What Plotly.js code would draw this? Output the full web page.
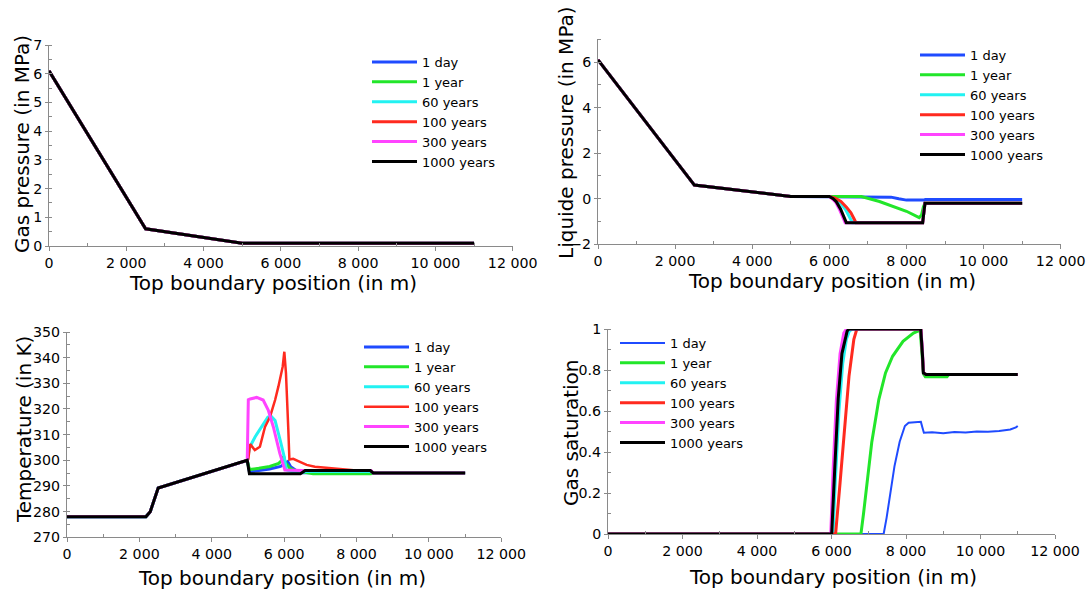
<!DOCTYPE html>
<html>
<head>
<meta charset="utf-8">
<script src="https://cdn.plot.ly/plotly-3.0.1.min.js"></script>
<style>html,body{margin:0;padding:0;background:#fff;}#chart{width:1091px;height:592px;}</style>
</head>
<body>
<div id="chart"></div>
<script>
// ---------- labels ----------
const seriesNames = ['1 day', '1 year', '60 years', '100 years', '300 years', '1000 years'];
const xTickVals = [0, 2000, 4000, 6000, 8000, 10000, 12000];
const xTickText = ['0', '2 000', '4 000', '6 000', '8 000', '10 000', '12 000'];
const xMinorVals = [1000, 3000, 5000, 7000, 9000, 11000];
const xTitle = 'Top boundary position (in m)';
const yTitles = ['Gas pressure (in MPa)', 'Liquide pressure (in MPa)', 'Temperature (in K)', 'Gas saturation'];

// ---------- Gas pressure (MPa) ----------
const gp_x = [0, 2500, 5000, 11000];
const gp_1day = [6.1, 0.6, 0.1, 0.1];
const gp_1yr = [6.1, 0.6, 0.1, 0.1];
const gp_60 = [6.1, 0.6, 0.1, 0.1];
const gp_100 = [6.1, 0.6, 0.1, 0.1];
const gp_300 = [6.1, 0.6, 0.1, 0.1];
const gp_1000 = [6.1, 0.6, 0.1, 0.1];

// ---------- Liquid pressure (MPa) ----------
const lp_1day_x = [0, 2500, 5000, 6000, 7400, 7600, 7800, 8000, 8450, 8490, 11000];
const lp_1day_y = [6.1, 0.6, 0.1, 0.1, 0.1, 0.07, 0.0, -0.06, -0.06, -0.03, -0.03];
const lp_1yr_x = [0, 2500, 5000, 6000, 6830, 7300, 7700, 8000, 8330, 8390, 8440, 8480, 11000];
const lp_1yr_y = [6.1, 0.6, 0.1, 0.1, 0.1, -0.12, -0.37, -0.55, -0.83, -0.72, -0.35, -0.2, -0.2];
const lp_60_x = [0, 2500, 5000, 6000, 6150, 6300, 6420, 6520, 6600, 8420, 8450, 8480, 11000];
const lp_60_y = [6.1, 0.6, 0.1, 0.1, -0.02, -0.22, -0.47, -0.78, -1.05, -1.05, -0.5, -0.2, -0.2];
const lp_100_x = [0, 2500, 5000, 6000, 6150, 6300, 6450, 6560, 6640, 6690, 8420, 8450, 8480, 11000];
const lp_100_y = [6.1, 0.6, 0.1, 0.1, 0.03, -0.12, -0.38, -0.62, -0.88, -1.05, -1.05, -0.5, -0.2, -0.2];
const lp_300_x = [0, 2500, 5000, 6000, 6090, 6170, 6270, 6350, 6410, 8420, 8450, 8480, 11000];
const lp_300_y = [6.1, 0.6, 0.1, 0.1, -0.02, -0.17, -0.5, -0.85, -1.05, -1.05, -0.5, -0.2, -0.2];
const lp_1000_x = [0, 2500, 5000, 6000, 6100, 6180, 6290, 6370, 6440, 8420, 8450, 8480, 11000];
const lp_1000_y = [6.1, 0.6, 0.1, 0.1, 0.0, -0.13, -0.45, -0.8, -1.05, -1.05, -0.5, -0.2, -0.2];

// ---------- Temperature (K) ----------
const t_1day_x = [0, 2180, 2300, 2520, 4980, 5040, 5300, 5600, 5900, 6100, 6180, 6350, 6500, 8400, 8460, 11000];
const t_1day_y = [278, 278, 280, 289.2, 300, 295.6, 296, 296.6, 297.6, 299.5, 297.5, 295.8, 295.2, 295.2, 295.1, 295.1];
const t_1yr_x = [0, 2180, 2300, 2520, 4980, 5040, 5300, 5600, 5850, 5950, 5985, 6030, 6150, 6300, 6500, 6800, 8400, 8460, 11000];
const t_1yr_y = [278, 278, 280, 289.2, 300, 296.4, 296.9, 297.6, 298.8, 300.2, 301.6, 299.2, 297.0, 296.0, 295.5, 294.8, 294.8, 295.1, 295.1];
const t_60_x = [0, 2180, 2300, 2520, 4980, 5010, 5050, 5200, 5380, 5550, 5650, 5750, 5890, 6000, 6060, 6200, 6500, 6600, 8400, 8460, 11000];
const t_60_y = [278, 278, 280, 289.2, 300, 303, 305.2, 309.2, 313.1, 316.8, 317, 315.5, 307.9, 301.5, 296.3, 295.6, 295.4, 295.6, 295.6, 295.1, 295.1];
const t_100_x = [0, 2180, 2300, 2520, 4980, 5010, 5060, 5190, 5330, 5470, 5610, 5750, 5840, 5960, 6005, 6050, 6115, 6145, 6250, 6350, 6450, 6620, 6850, 7350, 7730, 8000, 8400, 8460, 11000];
const t_100_y = [278, 278, 280, 289.2, 300, 300.5, 306.3, 304, 305.3, 313, 317, 323.5, 328.7, 336.5, 342.3, 334, 312, 300.3, 300.6, 300, 299.3, 298.2, 297.5, 296.9, 296.2, 296, 296, 295.1, 295.1];
const t_300_x = [0, 2180, 2300, 2520, 4980, 4995, 5010, 5060, 5240, 5420, 5560, 5700, 5880, 6020, 6250, 6500, 8400, 8460, 11000];
const t_300_y = [278, 278, 280, 289.2, 300, 315, 323.6, 323.9, 324.5, 323.5, 319.6, 313.1, 302.7, 296.2, 296, 296, 296, 295.1, 295.1];
const t_1000_x = [0, 2180, 2300, 2520, 4980, 5040, 6450, 6580, 8380, 8460, 11000];
const t_1000_y = [278, 278, 280, 289.2, 300, 294.8, 294.8, 296, 296, 295.1, 295.1];

// ---------- Gas saturation ----------
const s_1day_x = [0, 7400, 7480, 7550, 7690, 7830, 7970, 8070, 8200, 8400, 8440, 8480, 8700, 9000, 9300, 9600, 9900, 10200, 10500, 10800, 10950, 11000];
const s_1day_y = [0, 0, 0.08, 0.17, 0.33, 0.45, 0.527, 0.543, 0.545, 0.547, 0.52, 0.494, 0.496, 0.492, 0.497, 0.495, 0.5, 0.499, 0.503, 0.51, 0.52, 0.527];
const s_1yr_x = [0, 6790, 6860, 6940, 7080, 7270, 7450, 7640, 7920, 8200, 8380, 8420, 8470, 8520, 9100, 9150, 11000];
const s_1yr_y = [0, 0, 0.1, 0.235, 0.446, 0.656, 0.786, 0.867, 0.94, 0.98, 0.994, 0.9, 0.78, 0.767, 0.767, 0.778, 0.778];
const s_60_x = [0, 6040, 6100, 6200, 6300, 6400, 6480, 6560, 8400, 8440, 8470, 8540, 11000];
const s_60_y = [0, 0, 0.25, 0.6, 0.83, 0.95, 0.99, 1, 1, 0.9, 0.786, 0.778, 0.778];
const s_100_x = [0, 6110, 6230, 6340, 6470, 6600, 6680, 8400, 8440, 8470, 8540, 11000];
const s_100_y = [0, 0, 0.25, 0.49, 0.77, 0.95, 1, 1, 0.9, 0.786, 0.778, 0.778];
const s_300_x = [0, 5980, 6040, 6130, 6230, 6330, 6400, 8400, 8440, 8470, 8540, 11000];
const s_300_y = [0, 0, 0.3, 0.65, 0.88, 0.98, 1, 1, 0.9, 0.786, 0.778, 0.778];
const s_1000_x = [0, 6005, 6090, 6180, 6280, 6420, 6470, 8395, 8440, 8465, 8536, 11000];
const s_1000_y = [0, 0, 0.33, 0.66, 0.88, 0.99, 1, 1, 0.88, 0.786, 0.778, 0.778];

// ---------- styling ----------
const colors = ['#1f4bff', '#22e62a', '#22f2f2', '#ff2a1f', '#ff44ff', '#000000'];
const FONT = 'DejaVu Sans, sans-serif';
const AX = '#8a8a8a';
const W = 1091, H = 592;

function mk(xs, ys, i, xa, ya, lg, w) {
  return {
    x: xs, y: ys, type: 'scatter', mode: 'lines', name: seriesNames[i],
    xaxis: xa, yaxis: ya, legend: lg,
    line: {color: colors[i], width: w || 3},
    hoverinfo: 'skip'
  };
}

const traces = [];
[gp_1day, gp_1yr, gp_60, gp_100, gp_300, gp_1000].forEach((y, i) => traces.push(mk(gp_x, y, i, 'x', 'y', 'legend')));
[[lp_1day_x, lp_1day_y], [lp_1yr_x, lp_1yr_y], [lp_60_x, lp_60_y], [lp_100_x, lp_100_y], [lp_300_x, lp_300_y], [lp_1000_x, lp_1000_y]]
  .forEach((d, i) => traces.push(mk(d[0], d[1], i, 'x2', 'y2', 'legend2')));
[[t_1day_x, t_1day_y], [t_1yr_x, t_1yr_y], [t_60_x, t_60_y], [t_100_x, t_100_y], [t_300_x, t_300_y], [t_1000_x, t_1000_y]]
  .forEach((d, i) => traces.push(mk(d[0], d[1], i, 'x3', 'y3', 'legend3', i === 3 ? 2.5 : 3)));
[[s_1day_x, s_1day_y], [s_1yr_x, s_1yr_y], [s_60_x, s_60_y], [s_100_x, s_100_y], [s_300_x, s_300_y], [s_1000_x, s_1000_y]]
  .forEach((d, i) => traces.push(mk(d[0], d[1], i, 'x4', 'y4', 'legend4', i === 0 ? 2 : 3)));

function xax(domain, anchor) {
  return {
    domain: domain, anchor: anchor, range: [0, 12000], fixedrange: true,
    tickmode: 'array', tickvals: xTickVals, ticktext: xTickText,
    ticks: 'outside', ticklen: 4, tickcolor: AX, tickwidth: 1,
    showline: true, linecolor: AX, linewidth: 1,
    showgrid: false, zeroline: false, automargin: false,
    tickfont: {family: FONT, size: 14.2, color: '#000'},
    minor: {tickmode: 'array', tickvals: xMinorVals, ticks: 'inside', ticklen: 3, tickcolor: AX, showgrid: false}
  };
}
function yax(domain, anchor, range, dtick, minorDtick) {
  return {
    domain: domain, anchor: anchor, range: range, fixedrange: true,
    tickmode: 'linear', tick0: 0, dtick: dtick,
    ticks: 'outside', ticklen: 3, tickcolor: AX, tickwidth: 1,
    showline: true, linecolor: AX, linewidth: 1,
    showgrid: false, zeroline: false, automargin: false,
    tickfont: {family: FONT, size: 14.2, color: '#000'},
    minor: {tick0: 0, dtick: minorDtick, ticks: 'inside', ticklen: 3, tickcolor: AX, showgrid: false}
  };
}
function leg(xpx, ypx) {
  return {x: xpx / W, y: 1 - ypx / H, xanchor: 'left', yanchor: 'top', bgcolor: 'rgba(0,0,0,0)',
          borderwidth: 0, font: {family: FONT, size: 13, color: '#000'}, itemwidth: 45, tracegroupgap: 0};
}
function title(text, xpx, ypx, angle) {
  return {text: text, xref: 'paper', yref: 'paper', x: xpx / W, y: 1 - ypx / H,
          xanchor: 'center', yanchor: 'middle', showarrow: false, textangle: angle || 0,
          font: {family: FONT, size: 20, color: '#000'}};
}

const layout = {
  width: W, height: H,
  margin: {l: 0, r: 0, t: 0, b: 0},
  paper_bgcolor: '#fff', plot_bgcolor: '#fff',
  font: {family: FONT, color: '#000'},
  showlegend: true,
  xaxis: xax([49 / W, 512.7 / W], 'y'),
  yaxis: yax([1 - 246 / H, 1 - 45 / H], 'x', [0, 7], 1, 0.5),
  xaxis2: xax([598 / W, 1060.7 / W], 'y2'),
  yaxis2: yax([1 - 244.3 / H, 1 - 39.3 / H], 'x2', [-2, 7], 2, 1),
  xaxis3: xax([67 / W, 501.3 / W], 'y3'),
  yaxis3: yax([1 - 537.3 / H, 1 - 332 / H], 'x3', [270, 350], 10, 5),
  xaxis4: xax([608 / W, 1055 / W], 'y4'),
  yaxis4: yax([1 - 534 / H, 1 - 329 / H], 'x4', [0, 1], 0.2, 0.1),
  legend: leg(367, 47),
  legend2: leg(915, 40),
  legend3: leg(359, 332),
  legend4: leg(615, 328),
  annotations: [
    title(xTitle, 273, 283), title(xTitle, 832, 281), title(xTitle, 282, 578), title(xTitle, 833, 577),
    title(yTitles[0], 22, 144, -90), title(yTitles[1], 566, 133, -90),
    title(yTitles[2], 24, 430, -90), title(yTitles[3], 571, 433, -90)
  ]
};

Plotly.newPlot('chart', traces, layout, {displayModeBar: false, staticPlot: true});
</script>
</body>
</html>
